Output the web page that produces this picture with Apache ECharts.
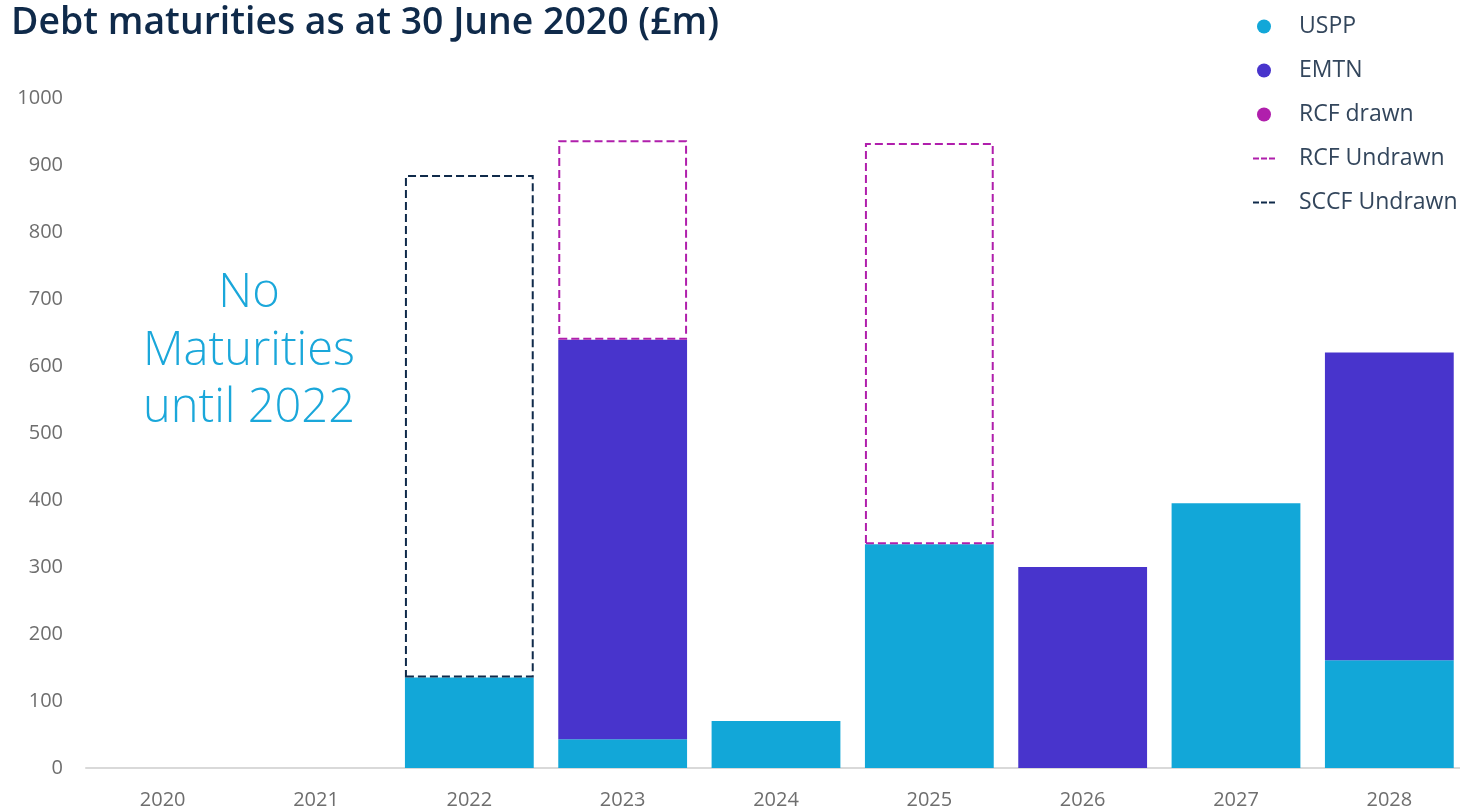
<!DOCTYPE html>
<html>
<head>
<meta charset="utf-8">
<title>Debt maturities as at 30 June 2020 (£m)</title>
<script src="https://cdn.jsdelivr.net/npm/echarts@6/dist/echarts.min.js"></script>
<style>
  html, body { margin: 0; padding: 0; background: #ffffff; }
  #chart { width: 1460px; height: 809px; }
</style>
</head>
<body>
<div id="chart"></div>
<script>
// Maturity years (category axis)
const years = ['2020', '2021', '2022', '2023', '2024', '2025', '2026', '2027', '2028'];

// Drawn debt by instrument, £m
const uspp      = [null, null, 135, 43, 70, 334, null, 395, 161];
const emtn      = [null, null, null, 596, null, null, 300, null, 459];
const rcfDrawn  = [null, null, null, null, null, null, null, null, null];

// Undrawn committed facilities, £m
const rcfUndrawn  = [null, null, null, 298, null, 599, null, null, null];
const sccfUndrawn = [null, null, 750, null, null, null, null, null, null];

// Value axis ticks
const yMin = 0, yMax = 1000, yStep = 100;

const C_USPP = '#12a7d8';
const C_EMTN = '#4834cc';
const C_RCF  = '#b01fac';
const C_SCCF = '#0f2a4a';
const FONT = '"Open Sans", "Noto Sans", sans-serif';

const dashIcon = 'path://M0,0h6v2h-6z M8,0h6v2h-6z M16,0h6v2h-6z';

const chart = echarts.init(document.getElementById('chart'), null, { renderer: 'canvas' });

function filledBar(name, data, color) {
  return {
    name, type: 'bar', stack: 'debt', data,
    barCategoryGap: '16%',
    itemStyle: { color },
    emphasis: { disabled: true }
  };
}
function dashedBar(name, data, color) {
  return {
    name, type: 'bar', stack: 'debt', data,
    barCategoryGap: '16%',
    itemStyle: {
      color: 'rgba(0,0,0,0)',
      borderColor: color,
      borderWidth: 2,
      borderType: [8, 4]
    },
    emphasis: { disabled: true }
  };
}

chart.setOption({
  animation: false,
  backgroundColor: '#ffffff',
  title: {
    text: 'Debt maturities as at 30 June 2020 (£m)',
    left: 6, top: 0,
    textStyle: { fontFamily: FONT, fontSize: 37.4, fontWeight: 600, color: C_SCCF }
  },
  legend: {
    orient: 'vertical',
    left: 1248, top: 10,
    itemWidth: 22, itemHeight: 14,
    itemGap: 21,
    textStyle: { fontFamily: FONT, fontSize: 23, color: '#33465c', lineHeight: 20, padding: [0, 0, 0, 19] },
    data: [
      { name: 'USPP', icon: 'circle' },
      { name: 'EMTN', icon: 'circle' },
      { name: 'RCF drawn', icon: 'circle', itemStyle: { color: C_RCF } },
      { name: 'RCF Undrawn', icon: dashIcon, itemStyle: { color: C_RCF, borderWidth: 0 } },
      { name: 'SCCF Undrawn', icon: dashIcon, itemStyle: { color: C_SCCF, borderWidth: 0 } }
    ]
  },
  grid: { left: 86, width: 1380, top: 98, bottom: 41, containLabel: false, outerBoundsMode: 'none' },
  xAxis: {
    type: 'category',
    data: years,
    axisLine: { show: true, lineStyle: { color: '#d9d9d9', width: 2 } },
    axisTick: { show: false },
    axisLabel: { fontFamily: FONT, fontSize: 20, color: '#6e6e6e', margin: 22 }
  },
  yAxis: {
    type: 'value',
    min: yMin, max: yMax, interval: yStep,
    axisLine: { show: false },
    axisTick: { show: false },
    splitLine: { show: false },
    axisLabel: {
      fontFamily: FONT, fontSize: 20, color: '#6e6e6e', margin: 23,
      formatter: (v) => String(v)
    }
  },
  graphic: [{
    type: 'text',
    x: 249, y: 265,
    style: {
      text: 'No\nMaturities\nuntil 2022',
      align: 'center',
      fontFamily: FONT,
      fontSize: 47,
      fontWeight: 300,
      lineHeight: 57.5,
      fill: '#1aa7da'
    }
  }],
  series: [
    filledBar('USPP', uspp, C_USPP),
    filledBar('EMTN', emtn, C_EMTN),
    filledBar('RCF drawn', rcfDrawn, C_RCF),
    dashedBar('RCF Undrawn', rcfUndrawn, C_RCF),
    dashedBar('SCCF Undrawn', sccfUndrawn, C_SCCF)
  ]
});
</script>
</body>
</html>
